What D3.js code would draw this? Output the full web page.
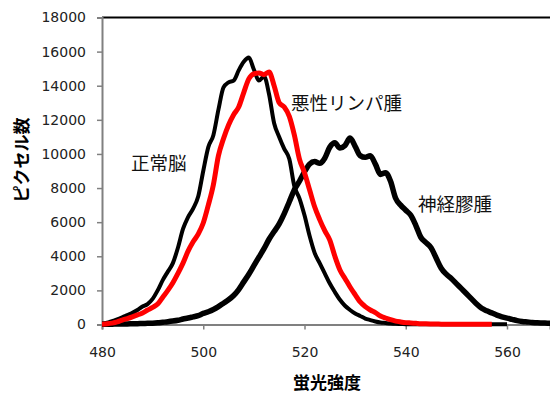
<!DOCTYPE html>
<html>
<head>
<meta charset="utf-8">
<script src="https://cdn.jsdelivr.net/npm/d3@7"></script>
<style>
  body { margin: 0; background: #fff; }
  svg { display: block; }
</style>
</head>
<body>
<div id="chart"></div>
<script>
// wavelength (x) and pixel counts per tissue
const wavelengths = d3.range(480, 570);
const normalBrain = [50, 100, 200, 300, 420, 550, 680, 850, 1050, 1200,
  1500, 2000, 2600, 3100, 3600, 4500, 5600, 6300, 6800, 7500,
  9000, 10400, 11100, 12600, 13900, 14200, 14300, 14900, 15400, 15650,
  14950, 14300, 14550, 13500, 11800, 11000, 10300, 9700, 8100, 7400,
  6400, 5200, 4200, 3600, 3000, 2400, 1900, 1450, 1100, 850,
  650, 500, 350, 260, 180, 120, 90, 60, 40, 30,
  20, 15, 10, 10, 10, 10, 10, 10, 10, 10,
  10, 10, 10, 10, 10, 10, 10, 10, 10, 10,
  10, null, null, null, null, null, null, null, null, null];
const lymphoma = [20, 40, 80, 150, 260, 350, 450, 560, 680, 850,
  1000, 1200, 1600, 2000, 2450, 3000, 3600, 4300, 4850, 5300,
  5950, 7000, 8200, 9900, 10900, 11700, 12300, 12750, 13600, 14400,
  14700, 14750, 14650, 14800, 14000, 13000, 12750, 12200, 11100, 9700,
  8900, 7900, 6900, 6150, 5500, 4950, 4000, 3200, 2700, 2200,
  1750, 1320, 1050, 850, 700, 500, 380, 280, 200, 150,
  110, 90, 70, 50, 40, 30, 25, 20, 15, 15,
  10, 10, 10, 10, 10, 10, 10, 10, null, null,
  null, null, null, null, null, null, null, null, null, null];
const glioma = [10, 15, 20, 25, 30, 35, 40, 50, 60, 70,
  80, 100, 130, 160, 200, 250, 320, 380, 450, 520,
  650, 750, 880, 1050, 1250, 1450, 1700, 2050, 2500, 2950,
  3450, 3950, 4450, 5000, 5450, 5900, 6500, 7200, 7900, 8400,
  8950, 9400, 9550, 9450, 9750, 10400, 10650, 10350, 10500, 10930,
  10450, 9900, 9800, 9900, 9400, 8800, 8900, 8400, 7400, 7000,
  6700, 6400, 5800, 5100, 4800, 4500, 3900, 3300, 2950, 2700,
  2400, 2100, 1800, 1500, 1200, 950, 800, 680, 550, 450,
  370, 300, 230, 180, 150, 120, 100, 90, 80, 70];
const xTicks = [480, 500, 520, 540, 560];
const yTicks = d3.range(0, 18001, 2000);

const W = 550, H = 394;
const padL = 102, padT = 17.5, plotB = 324.5, plotR = 550;

const svg = d3.select("#chart").append("svg")
  .attr("width", W).attr("height", H)
  .style("font-family", "'DejaVu Sans', sans-serif");

const x = d3.scaleLinear().domain([480, 480 + (plotR - padL) / 5.0625]).range([padL, plotR]);
const y = d3.scaleLinear().domain([0, 18000]).range([plotB, padT]);

svg.append("defs").append("clipPath").attr("id", "clip")
  .append("rect").attr("x", padL).attr("y", 0).attr("width", plotR - padL).attr("height", plotB + 4);

// top border
svg.append("line").attr("x1", padL).attr("x2", plotR)
  .attr("y1", padT).attr("y2", padT)
  .attr("stroke", "#000").attr("stroke-width", 2);

const yAxis = svg.append("g").attr("transform", `translate(${padL},0)`)
  .call(d3.axisLeft(y).tickValues(yTicks).tickSize(5).tickPadding(11).tickFormat(d3.format("d")));
const xAxis = svg.append("g").attr("transform", `translate(0,${plotB})`)
  .call(d3.axisBottom(x).tickValues(xTicks).tickSize(5).tickPadding(18));
[yAxis, xAxis].forEach(g => {
  g.select(".domain").attr("stroke", "#808080").attr("stroke-width", 2);
  g.selectAll(".tick line").attr("stroke", "#808080").attr("stroke-width", 1.5);
  g.selectAll("text").attr("fill", "#222").style("font-size", "14px")
    .style("font-family", "'DejaVu Sans', sans-serif");
});

const line = vals => d3.line()
  .defined((d, i) => vals[i] != null)
  .curve(d3.curveMonotoneX)
  .x(d => x(d))
  .y((d, i) => y(vals[i]))(wavelengths);

const plot = svg.append("g").attr("clip-path", "url(#clip)");
plot.append("path").attr("d", line(normalBrain))
  .attr("fill", "none").attr("stroke", "#000").attr("stroke-width", 4).attr("stroke-linejoin", "round");
plot.append("path").attr("d", line(glioma))
  .attr("fill", "none").attr("stroke", "#000").attr("stroke-width", 5.5).attr("stroke-linejoin", "round");
plot.append("path").attr("d", line(lymphoma))
  .attr("fill", "none").attr("stroke", "#ff0000").attr("stroke-width", 5).attr("stroke-linejoin", "round");

const labels = [
  { t: "正常脳", x: 131, y: 170 },
  { t: "悪性リンパ腫", x: 291, y: 110 },
  { t: "神経膠腫", x: 418, y: 211 }
];
svg.selectAll(".lbl").data(labels).enter().append("text")
  .attr("x", d => d.x).attr("y", d => d.y)
  .style("font-family", "'Noto Sans CJK JP', sans-serif")
  .style("font-size", "18.5px").attr("fill", "#111")
  .text(d => d.t);

svg.append("text").attr("x", 327).attr("y", 389)
  .attr("text-anchor", "middle")
  .style("font-family", "'Noto Sans CJK JP', sans-serif")
  .style("font-size", "17px").style("font-weight", "bold")
  .text("蛍光強度");
svg.append("text")
  .attr("transform", "translate(28,160) rotate(-90)")
  .attr("text-anchor", "middle")
  .style("font-family", "'Noto Sans CJK JP', sans-serif")
  .style("font-size", "17px").style("font-weight", "bold")
  .text("ピクセル数");
</script>
</body>
</html>
